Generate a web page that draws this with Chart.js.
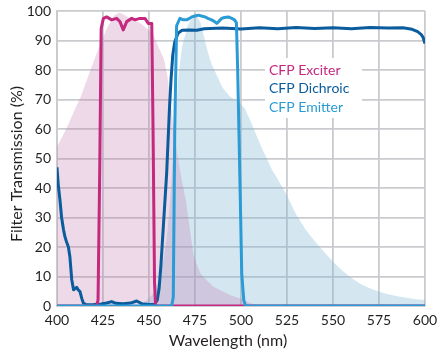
<!DOCTYPE html>
<html>
<head>
<meta charset="utf-8">
<script src="https://cdn.jsdelivr.net/npm/chart.js@4"></script>
<style>
  html, body { margin: 0; padding: 0; background: #fff; }
  #wrap { width: 437px; height: 354px; }
</style>
</head>
<body>
<div id="wrap"><canvas id="filterChart"></canvas></div>
<script>
// шкала
const xTicks = [400, 425, 450, 475, 500, 525, 550, 575, 600];
const yTicks = [0, 10, 20, 30, 40, 50, 60, 70, 80, 90, 100];
const xTitle = 'Wavelength (nm)';
const yTitle = 'Filter Transmission (%)';

// спектры флуорофора (заливка) [нм, %]
const cfpExcitation = [
  [400, 54], [405, 60], [410, 67], [413, 71], [417, 78], [420, 83], [423, 88], [427, 94],
  [431, 98.5], [434, 99.5], [437, 98.5], [441, 97], [445, 96], [449, 94], [452, 92.5],
  [455, 88], [458, 84], [460, 78], [462, 68], [464, 57], [466, 49], [468, 42], [470, 36],
  [472, 27], [474, 18], [476, 14], [478, 11], [481, 9], [485, 6.5], [490, 5], [495, 3.5],
  [500, 2.5], [505, 1], [510, 0]
];
const cfpEmission = [
  [445, 0], [448, 1.5], [452, 4], [455, 8], [458, 16], [460, 25], [462, 40], [464, 60],
  [466, 78], [468, 88], [471, 95], [474, 98.5], [476, 98.5], [478, 96], [480, 91], [482, 86],
  [484, 82], [487, 78], [490, 74], [494, 71], [498, 69.5], [502, 67], [505, 63], [508, 58.5],
  [511, 54], [514, 50], [517, 46], [520, 43], [525, 37.5], [530, 31], [535, 26], [540, 22],
  [545, 18.5], [550, 15], [555, 12], [560, 9.5], [565, 7.5], [570, 6], [575, 4.8], [580, 4],
  [585, 3.3], [590, 2.8], [595, 2.3], [600, 2]
];

// фильтры [нм, %]
const exciter = [
  [400, 0], [421.5, 0], [422.3, 2], [423.2, 45], [424, 94], [425.2, 97.5], [427, 98],
  [429.7, 97], [432.4, 97.5], [434.2, 96.4], [436, 93.6], [437.9, 96.4], [440.6, 97.5],
  [442.4, 97], [445, 97.5], [447.8, 97.5], [449.6, 95.8], [451.5, 95.8], [452.2, 60],
  [453, 8], [453.6, 0], [600, 0]
];
const dichroic = [
  [400, 47], [400.7, 41], [401.6, 36], [402.5, 30], [403.5, 26], [404.3, 23.5], [405.3, 21.5],
  [406.2, 20], [407, 16.7], [408, 9], [409, 5.5], [410, 6], [410.7, 6.3], [411.5, 5.5],
  [412.5, 4.9], [413.5, 2.5], [414.3, 1], [416, 0.4], [420, 0.5], [424, 0.7], [427, 1],
  [429.7, 1.5], [432, 0.9], [436, 0.8], [440, 1], [443.3, 1.7], [446, 0.8], [450, 0.5],
  [453, 0.6], [454.5, 2], [455.5, 6], [456.5, 14], [457.4, 23], [458.5, 34], [459.6, 45],
  [460.5, 58], [461.2, 68], [462, 77], [462.9, 85], [464, 89.5], [465.8, 92.5], [468, 93.5],
  [472, 93.6], [476, 93.5], [480, 94], [490, 94.2], [500, 93.9], [510, 94.3], [520, 94],
  [530, 94.4], [540, 94.1], [550, 94.3], [560, 94], [570, 94.4], [580, 94.2], [588, 94.3],
  [593, 93.8], [596, 93], [598, 92], [599, 91], [600, 89]
];
const emitter = [
  [400, 0], [462.3, 0], [463.2, 3], [464, 60], [465, 95], [466.8, 97.5], [468.5, 97],
  [470.5, 97], [472, 97.5], [473.2, 98], [475, 98.3], [476.8, 98.6], [478.5, 98.3],
  [480.4, 98], [482, 97.5], [484, 97], [485.5, 96.5], [486.8, 95.8], [488, 96.5],
  [489.5, 97.5], [491, 97.8], [493.1, 98], [495, 97.5], [496.5, 97], [497.5, 96],
  [498.2, 80], [499.5, 40], [500.4, 11], [501.5, 2], [502.5, 0], [600, 0]
];

const legendNames = ['CFP Exciter', 'CFP Dichroic', 'CFP Emitter'];
const legendColors = ['#c4287f', '#0b5c9c', '#2a9bd6'];

const FONT = 'Lato, "Open Sans", sans-serif';
const TEXT = '#231f20';
const GRID = '#c9cbce';

function toPts(arr) {
    return arr.map(p => ({ x: p[0], y: p[1] }));
}

// легенда в белой плашке внутри графика
const boxLegend = {
    id: 'boxLegend',
    beforeDatasetsDraw(chart) {
        const { ctx, chartArea } = chart;
        const x0 = chartArea.left + 208;
        const y0 = chartArea.top + 47;
        ctx.save();
        ctx.fillStyle = '#fff';
        ctx.fillRect(x0, y0, 97, 60);
        ctx.font = '14px ' + FONT;
        ctx.textBaseline = 'middle';
        legendNames.forEach((name, i) => {
            ctx.fillStyle = legendColors[i];
            ctx.fillText(name, x0 + 4, y0 + 12 + i * 18.5);
        });
        ctx.restore();
    },
    // подписи осей (в оригинале немного смещены от центра)
    afterDraw(chart) {
        const { ctx, chartArea } = chart;
        ctx.save();
        ctx.fillStyle = TEXT;
        ctx.font = '16px ' + FONT;
        ctx.textAlign = 'center';
        ctx.textBaseline = 'middle';
        ctx.fillText(xTitle, chartArea.left + 171, chartArea.bottom + 35);
        ctx.translate(17, chartArea.top + 153);
        ctx.rotate(-Math.PI / 2);
        ctx.fillText(yTitle, 0, 0);
        ctx.restore();
    }
};

const lineDs = (label, arr, color, order) => ({
    label: label,
    data: toPts(arr),
    borderColor: color,
    borderWidth: 3,
    pointRadius: 0,
    borderJoinStyle: 'round',
    tension: 0,
    fill: false,
    order: order
});

const areaDs = (label, arr, color, order) => ({
    label: label,
    data: toPts(arr),
    borderWidth: 0,
    borderColor: 'rgba(0,0,0,0)',
    backgroundColor: color,
    pointRadius: 0,
    tension: 0,
    fill: 'origin',
    order: order
});

new Chart(document.getElementById('filterChart'), {
    type: 'line',
    data: {
        datasets: [
            lineDs(legendNames[2], emitter, legendColors[2], 0),
            lineDs(legendNames[0], exciter, legendColors[0], 1),
            lineDs(legendNames[1], dichroic, legendColors[1], 2),
            areaDs('CFP excitation', cfpExcitation, 'rgba(190,120,170,0.28)', 3),
            areaDs('CFP emission', cfpEmission, 'rgba(120,180,212,0.32)', 4)
        ]
    },
    options: {
        responsive: true,
        maintainAspectRatio: false,
        animation: false,
        layout: { padding: { left: 0, right: 12, top: 11, bottom: 0 } },
        plugins: {
            legend: { display: false },
            tooltip: { enabled: false }
        },
        scales: {
            x: {
                type: 'linear',
                min: 400,
                max: 600,
                afterBuildTicks: s => { s.ticks = xTicks.map(v => ({ value: v })); },
                afterFit: s => { s.height = 48; s.paddingLeft = 0; s.paddingRight = 0; },
                grid: { color: GRID, lineWidth: 1.8, drawTicks: false },
                border: { color: GRID, width: 1.8 },
                ticks: { color: TEXT, font: { family: FONT, size: 14 }, padding: 6, maxRotation: 0 }
            },
            y: {
                min: 0,
                max: 100,
                afterBuildTicks: s => { s.ticks = yTicks.map(v => ({ value: v })); },
                afterFit: s => { s.width = 57; s.paddingTop = 0; s.paddingBottom = 0; },
                grid: { color: GRID, lineWidth: 1.8, drawTicks: false },
                border: { color: GRID, width: 1.8 },
                ticks: { color: TEXT, font: { family: FONT, size: 14 }, padding: 6 }
            }
        }
    },
    plugins: [boxLegend]
});
</script>
</body>
</html>
